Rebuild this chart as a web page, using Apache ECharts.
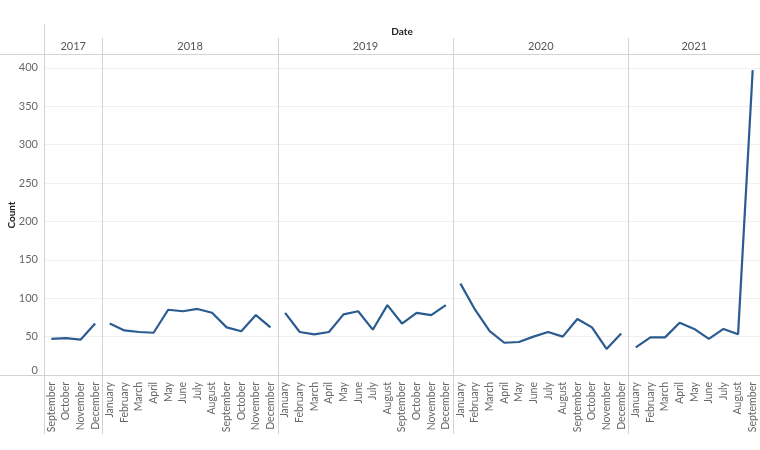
<!DOCTYPE html>
<html><head><meta charset="utf-8">
<script src="https://cdn.jsdelivr.net/npm/echarts@6/dist/echarts.min.js"></script>
<style>html,body{margin:0;padding:0;background:#fff}#c{width:760px;height:450px}</style>
</head><body><div id="c"></div>
<script>
const years = ['2017', '2018', '2019', '2020', '2021'];
const months2017 = ['September', 'October', 'November', 'December'];
const monthsFull = ['January', 'February', 'March', 'April', 'May', 'June', 'July', 'August', 'September', 'October', 'November', 'December'];
const months2021 = ['January', 'February', 'March', 'April', 'May', 'June', 'July', 'August', 'September'];
const v2017 = [47, 48, 46, 67];
const v2018 = [67, 58, 56, 55, 85, 83, 86, 81, 62, 57, 78, 62];
const v2019 = [81, 56, 53, 56, 79, 83, 59, 91, 67, 81, 78, 91];
const v2020 = [119, 85, 57, 42, 43, 50, 56, 50, 73, 62, 34, 54];
const v2021 = [36, 49, 49, 68, 60, 47, 60, 53, 397];
const yTicks = [0, 50, 100, 150, 200, 250, 300, 350, 400];

const yearMonths = [months2017, monthsFull, monthsFull, monthsFull, months2021];
const yearValues = [v2017, v2018, v2019, v2020, v2021];
const categories = [].concat(...yearMonths);
const starts = [];
let acc = 0;
yearMonths.forEach(m => { starts.push(acc); acc += m.length; });

const FONT = 'Lato';
const LINE = '#2a5b91';
const SEP = '#d3d3d3';

const series = yearValues.map((vals, i) => {
  const d = new Array(categories.length).fill(null);
  vals.forEach((v, j) => { d[starts[i] + j] = v; });
  return {
    type: 'line', data: d, showSymbol: false, symbol: 'none', connectNulls: false,
    lineStyle: { color: LINE, width: 2.2 }, itemStyle: { color: LINE }, silent: true
  };
});

const chart = echarts.init(document.getElementById('c'), null, { renderer: 'canvas' });
const base = {
  animation: false,
  grid: { left: 44, right: 0, top: 54, bottom: 75, containLabel: false },
  xAxis: {
    type: 'category', data: categories, boundaryGap: true,
    axisLine: { show: false },
    axisTick: { show: false },
    axisLabel: { rotate: 90, interval: 0, color: '#666', fontFamily: FONT, fontSize: 10.5, margin: 7 },
    splitLine: { show: false }
  },
  yAxis: {
    type: 'value', min: 0, max: 418, interval: 50,
    axisLine: { show: false }, axisTick: { show: false },
    axisLabel: { color: '#666', fontFamily: FONT, fontSize: 11, margin: 6, showMaxLabel: false,
      formatter: v => (yTicks.indexOf(v) >= 0 ? (v === 0 ? '{z|0}' : String(v)) : ''),
      rich: { z: { color: '#666', fontFamily: FONT, fontSize: 11, padding: [0, 0, 10, 0] } } },
    splitLine: { show: true, lineStyle: { color: '#f0f0f0', width: 1 } }
  },
  series: series
};
chart.setOption(base);

const c0 = chart.convertToPixel({ xAxisIndex: 0 }, 0);
const c1 = chart.convertToPixel({ xAxisIndex: 0 }, 1);
const bw = c1 - c0;
const y0 = chart.convertToPixel({ yAxisIndex: 0 }, 0);
const gridTop = 54;
const leftX = c0 - bw / 2;
const graphics = [];
const line = (x1, y1, x2, y2, color) => graphics.push({
  type: 'line', shape: { x1, y1, x2, y2 }, style: { stroke: color, lineWidth: 1 }, silent: true, z: 10
});
line(0, gridTop + 0.5, 760, gridTop + 0.5, SEP);
line(0, Math.round(y0) + 0.5, 760, Math.round(y0) + 0.5, SEP);
line(Math.round(leftX) + 0.5, 24, Math.round(leftX) + 0.5, 434, SEP);
years.forEach((y, i) => {
  const xs = chart.convertToPixel({ xAxisIndex: 0 }, starts[i]) - bw / 2;
  const xe = xs + bw * yearMonths[i].length;
  if (i > 0) line(Math.round(xs) + 0.5, 38, Math.round(xs) + 0.5, 434, SEP);
  graphics.push({
    type: 'text', x: (xs + xe) / 2, y: 46, silent: true,
    style: { text: y, fill: '#555', font: '11px ' + FONT, textAlign: 'center', textVerticalAlign: 'middle' }
  });
});
graphics.push({
  type: 'text', x: (leftX + 760) / 2, y: 32, silent: true,
  style: { text: 'Date', fill: '#222', font: 'bold 10px ' + FONT, textAlign: 'center', textVerticalAlign: 'middle' }
});
graphics.push({
  type: 'text', x: 12, y: 215, rotation: Math.PI / 2, silent: true,
  style: { text: 'Count', fill: '#222', font: 'bold 10px ' + FONT, textAlign: 'center', textVerticalAlign: 'middle' }
});
chart.setOption({ graphic: graphics });
</script>
</body></html>
